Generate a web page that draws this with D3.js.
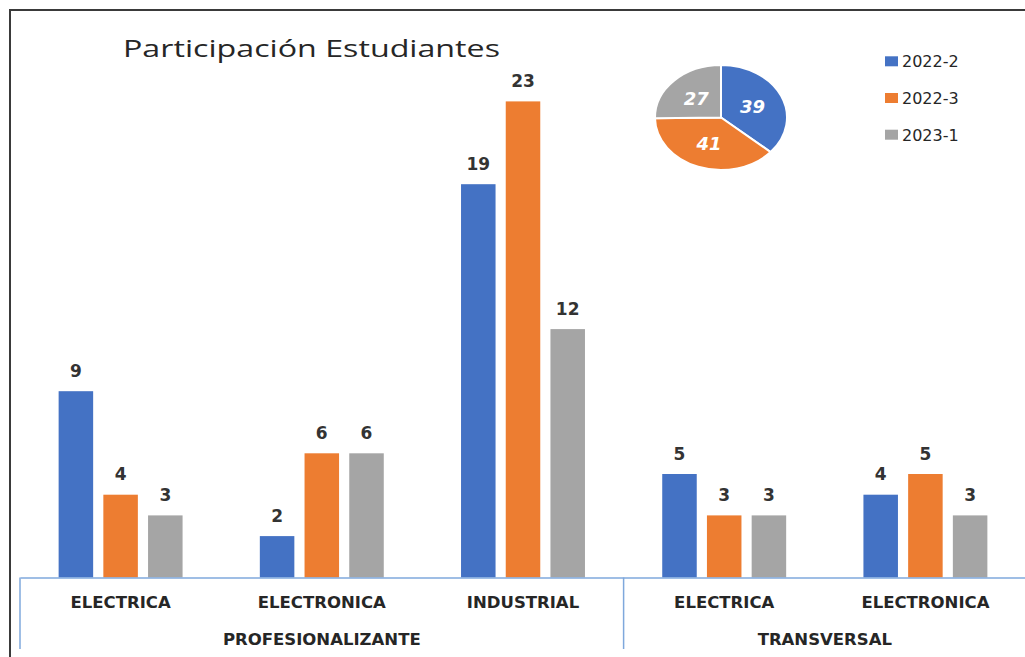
<!DOCTYPE html>
<html>
<head>
<meta charset="utf-8">
<script src="https://cdn.jsdelivr.net/npm/d3@7"></script>
<style>
    body { margin: 0; background: #fff; }
    svg { display: block; }
</style>
</head>
<body>
<div id="chart"></div>
<script>
    var width = 1025;
    var height = 657;

    // data
    var categories = ["ELECTRICA", "ELECTRONICA", "INDUSTRIAL", "ELECTRICA", "ELECTRONICA"];
    var groupNames = ["PROFESIONALIZANTE", "TRANSVERSAL"];
    var groupSizes = [3, 2];
    var seriesNames = ["2022-2", "2022-3", "2023-1"];
    var values2022_2 = [9, 2, 19, 5, 4];
    var values2022_3 = [4, 6, 23, 3, 5];
    var values2023_1 = [3, 6, 12, 3, 3];
    var colors = ["#4472C4", "#ED7D31", "#A5A5A5"];

    var series = [values2022_2, values2022_3, values2023_1];

    var svg = d3.select("#chart")
        .append("svg")
        .attr("width", width)
        .attr("height", height);

    // frame (only left and top edges are visible)
    svg.append("path")
        .attr("d", "M10," + height + "V10H" + width)
        .attr("fill", "none")
        .attr("stroke", "#3a3a3a")
        .attr("stroke-width", 2);

    var baseY = 577.5;
    var x0 = d3.scaleBand()
        .domain(d3.range(categories.length))
        .range([20, 1026])
        .padding(0);

    var x1 = d3.scaleBand()
        .domain(seriesNames)
        .range([0, x0.bandwidth()])
        .paddingInner(0.228)
        .paddingOuter(0.864);

    var y = d3.scaleLinear()
        .domain([0, 25])
        .range([baseY, 60]);

    // bars
    var cat = svg.selectAll(".cat")
        .data(categories)
        .enter()
        .append("g")
        .attr("class", "cat")
        .attr("transform", function (d, i) {
            return "translate(" + x0(i) + ",0)";
        });

    seriesNames.forEach(function (name, s) {
        cat.append("rect")
            .attr("x", x1(name))
            .attr("width", x1.bandwidth())
            .attr("y", function (d, i) { return y(series[s][i]); })
            .attr("height", function (d, i) { return baseY - y(series[s][i]); })
            .attr("fill", colors[s]);

        cat.append("text")
            .attr("x", x1(name) + x1.bandwidth() / 2)
            .attr("y", function (d, i) { return y(series[s][i]) - 14.5; })
            .attr("text-anchor", "middle")
            .style("font-family", "DejaVu Sans")
            .style("font-weight", "bold")
            .style("font-size", "17px")
            .style("fill", "#333")
            .text(function (d, i) { return series[s][i]; });
    });

    // category axis
    var axis = svg.append("g")
        .attr("transform", "translate(0," + baseY + ")")
        .call(d3.axisBottom(x0)
            .tickSize(0)
            .tickPadding(19)
            .tickFormat(function (i) { return categories[i]; }));

    axis.select(".domain")
        .attr("stroke", "#7fa8dc")
        .attr("stroke-width", 1.5);
    axis.selectAll("text")
        .style("font-family", "DejaVu Sans")
        .style("font-weight", "bold")
        .style("font-size", "16.5px")
        .style("fill", "#262626");

    // group level
    var start = 0;
    groupNames.forEach(function (g, k) {
        var left = x0(start);
        var right = x0(start + groupSizes[k] - 1) + x0.bandwidth();
        svg.append("line")
            .attr("x1", left).attr("x2", left)
            .attr("y1", baseY).attr("y2", 649)
            .attr("stroke", "#7fa8dc")
            .attr("stroke-width", 1.5);
        svg.append("text")
            .attr("x", (left + right) / 2)
            .attr("y", 645)
            .attr("text-anchor", "middle")
            .style("font-family", "DejaVu Sans")
            .style("font-weight", "bold")
            .style("font-size", "16.5px")
            .style("fill", "#262626")
            .text(g);
        start += groupSizes[k];
    });

    // title
    svg.append("text")
        .attr("x", 123)
        .attr("y", 57)
        .attr("textLength", 377)
        .attr("lengthAdjust", "spacingAndGlyphs")
        .style("font-family", "Open Sans")
        .style("font-size", "24px")
        .style("fill", "#262626")
        .text("Participación Estudiantes");

    // pie of totals
    var totals = series.map(function (v) { return d3.sum(v); });
    var pie = d3.pie().sort(null)(totals);
    var arc = d3.arc().innerRadius(0).outerRadius(1);
    var rx = 66, ry = 52.5;

    var pieG = svg.append("g")
        .attr("transform", "translate(721,117.5)");

    pieG.selectAll("path")
        .data(pie)
        .enter()
        .append("path")
        .attr("d", arc)
        .attr("transform", "scale(" + rx + "," + ry + ")")
        .attr("fill", function (d, i) { return colors[i]; })
        .attr("stroke", "#fff")
        .attr("stroke-width", 2)
        .attr("vector-effect", "non-scaling-stroke");

    pieG.selectAll("text")
        .data(pie)
        .enter()
        .append("text")
        .attr("x", function (d) { return arc.centroid(d)[0] * rx * 1.05; })
        .attr("y", function (d) { return arc.centroid(d)[1] * ry * 1.05; })
        .attr("dy", "0.36em")
        .attr("text-anchor", "middle")
        .style("font-family", "DejaVu Sans")
        .style("font-weight", "bold")
        .style("font-style", "italic")
        .style("font-size", "18px")
        .style("fill", "#fff")
        .text(function (d) { return d.data; });

    // legend
    var legend = svg.selectAll(".legend")
        .data(seriesNames)
        .enter()
        .append("g")
        .attr("class", "legend")
        .attr("transform", function (d, i) {
            return "translate(885," + (61.3 + i * 36.7) + ")";
        });

    legend.append("rect")
        .attr("x", 0)
        .attr("y", -5)
        .attr("width", 13)
        .attr("height", 10)
        .attr("fill", function (d, i) { return colors[i]; });

    legend.append("text")
        .attr("x", 17)
        .attr("y", 6)
        .style("font-family", "DejaVu Sans")
        .style("font-size", "16px")
        .style("fill", "#262626")
        .text(function (d) { return d; });
</script>
</body>
</html>
